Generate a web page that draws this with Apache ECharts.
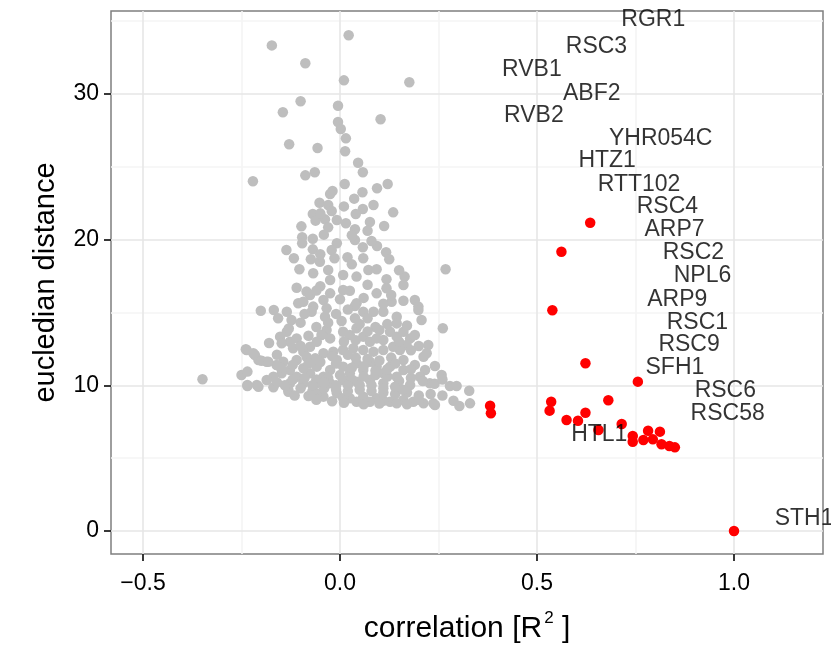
<!DOCTYPE html>
<html>
<head>
<meta charset="utf-8">
<script src="https://cdn.jsdelivr.net/npm/echarts@6/dist/echarts.min.js"></script>
<style>
html,body{margin:0;padding:0;background:#fff;}
#chart{width:831px;height:651px;}
</style>
</head>
<body>
<div id="chart"></div>
<script>
// ---- data ----
var xTicks = [-0.5, 0.0, 0.5, 1.0];
var yTicks = [0, 10, 20, 30];
var xMinorGrid = [-0.25, 0.25, 0.75];
var yMinorGrid = [5, 15, 25, 35];

var grayPoints = [
[0.022,34.02],[-0.173,33.33],[-0.088,32.1],[0.010,30.93],[0.176,30.8],[-0.100,29.49],[-0.005,29.19],
[-0.145,28.74],[0.103,28.26],[-0.005,28.07],[0.002,27.59],[0.015,26.95],[-0.129,26.54],[-0.057,26.29],
[0.013,26.06],[0.046,25.28],[0.058,24.62],[-0.088,24.41],[-0.064,24.62],[-0.221,24.0],[0.012,23.82],
[-0.019,23.34],[-0.025,23.13],[0.094,23.52],[0.121,23.82],[0.057,23.25],[0.036,22.81],[-0.052,22.53],
[-0.030,22.37],[0.010,22.28],[0.085,22.37],[-0.069,21.76],[-0.021,21.96],[0.058,22.1],[0.040,21.76],
[0.135,21.87],[-0.062,21.3],[-0.038,21.39],[-0.008,21.35],[0.015,21.12],[0.076,21.21],[0.112,20.93],
[-0.098,20.91],[-0.030,20.84],[0.038,20.71],[0.070,20.61],[-0.041,20.34],[-0.069,20.06],[-0.096,20.16],
[-0.096,19.75],[-0.008,19.75],[0.038,19.97],[0.094,19.56],[0.058,19.47],[-0.136,19.29],[-0.069,19.33],
[-0.021,19.29],[0.117,19.13],[-0.117,18.72],[-0.074,18.65],[-0.014,18.72],[0.019,18.79],[0.059,18.72],
[0.125,18.65],[-0.103,17.96],[-0.051,18.48],[0.268,17.96],[-0.068,17.69],[-0.030,17.91],[0.008,17.57],
[0.072,17.91],[0.093,17.96],[0.118,17.28],[0.164,17.46],[0.161,16.88],[0.042,17.46],[-0.025,17.23],
[-0.085,16.43],[-0.076,16.2],[-0.106,15.63],[-0.093,15.74],[-0.068,15.4],[-0.072,15.05],[-0.042,15.85],
[-0.034,15.28],[-0.038,14.71],[-0.025,16.31],[0.008,16.54],[0.025,16.49],[0.042,15.63],[0.059,15.05],
[0.085,15.05],[0.110,15.05],[0.093,16.31],[0.118,16.66],[0.131,15.74],[0.161,15.8],[0.190,15.85],
[0.199,15.4],[0.207,14.48],[-0.201,15.12],[-0.168,15.17],[-0.135,15.05],[-0.157,14.6],[-0.123,14.48],
[0.004,14.41],[0.038,15.44],[0.038,14.6],[0.144,14.71],[0.144,14.25],
[0.261,13.91],[-0.034,13.8],[-0.047,13.45],[-0.059,12.99],[-0.025,13.22],[-0.076,12.65],[-0.093,12.31],
[-0.119,12.54],[-0.127,12.99],[-0.152,13.34],[-0.148,12.88],[-0.110,13.22],[-0.135,13.68],[0.008,13.68],
[0.025,13.45],[0.042,13.91],[0.059,13.34],[0.076,12.99],[0.093,13.22],[0.110,13.11],[0.127,13.68],
[0.144,13.34],[0.161,13.68],[0.178,13.22],[0.190,13.45],[0.224,12.77],[0.212,11.96],[0.220,12.2],
[0.169,12.77],[0.152,12.42],[0.135,12.65],[0.110,12.42],[0.085,12.31],[0.059,12.42],[0.034,12.54],
[0.008,12.42],[-0.017,12.31],[-0.042,12.2],[-0.063,11.85],[-0.085,11.96],[-0.110,11.74],[-0.144,11.62],
[-0.161,11.39],[-0.186,11.62],[-0.207,11.74],[-0.220,12.2],[-0.239,12.47],
[0.258,10.71],[0.241,11.32],[0.216,11.05],[0.228,10.14],[0.161,11.74],[0.161,11.05],[0.144,10.59],
[0.127,11.28],[0.110,10.82],[0.093,11.28],[0.076,11.62],[0.059,11.05],[0.042,11.51],[0.025,10.82],
[0.008,11.28],[-0.008,11.74],[-0.025,11.05],[-0.042,10.59],[-0.059,11.28],[-0.076,10.82],[-0.093,11.17],
[-0.110,10.59],[-0.127,11.05],[-0.148,10.82],[-0.169,10.59],[-0.186,10.36],[-0.211,10.02],[-0.235,10.02],
[-0.250,10.71],[-0.235,10.94],[-0.349,10.41],[-0.127,10.14],[-0.093,10.14],[-0.059,10.14],[-0.025,10.14],
[0.008,10.36],[0.042,10.25],[0.076,10.36],[0.110,10.14],[0.178,10.02],[0.203,10.59],[0.279,9.95],
[0.296,9.95],[0.328,9.63],
[-0.080,9.27],[-0.042,9.22],[-0.008,9.45],[0.025,9.11],[0.059,9.22],[0.093,9.11],[0.127,8.87],
[0.161,8.99],[0.186,8.87],[0.212,8.76],[0.241,8.65],[0.288,8.94],[0.303,8.58],[0.330,8.76],
[-0.131,9.56],[-0.059,9.45],[0.008,9.11],[0.042,8.87],[0.076,8.87],[0.144,8.76],[0.110,8.94],
[-0.237,12.42],[-0.216,12.08],[-0.199,11.69],[-0.182,11.62],[-0.235,9.95],[-0.207,9.9],[-0.169,9.86],
[-0.131,9.68],[0.237,8.76],[0.199,15.17],
[-0.10,9.8],[-0.07,9.6],[-0.04,9.8],[-0.01,9.7],[0.02,9.6],[0.05,9.7],[0.08,9.6],[0.11,9.5],[0.14,9.4],
[0.17,9.5],[0.20,9.3],[-0.03,10.5],[0.00,10.7],[0.03,10.4],[0.06,10.6],[0.09,10.7],[0.12,10.6],
[0.15,10.3],[0.18,10.5],[-0.06,10.4],[-0.09,10.5],[-0.12,10.4],[0.04,11.9],[0.07,11.8],[0.10,11.7],
[0.13,11.9],[-0.02,12.0],[0.02,12.1],[0.19,11.4],[0.20,12.7],[-0.16,12.1],[-0.18,12.9],[0.05,14.2],
[0.09,14.0],[-0.01,14.9],[0.11,15.6],[-0.05,16.8],[0.06,16.0],[0.14,9.9],[0.23,9.4],[0.26,9.3],
[-0.115,9.3],[-0.06,9.0],[-0.02,8.9],[0.01,8.8],[0.06,8.7],[0.10,8.75],[0.17,8.7],[0.20,9.0],
[-0.16,10.2],[-0.14,10.0],[-0.15,11.2],[-0.12,11.4],[-0.08,11.5],[-0.05,11.6],[-0.01,11.5],[0.03,11.2],
[0.06,11.3],[0.09,11.0],[0.12,11.1],[0.14,11.5],[0.18,11.1],[0.21,10.3],[0.24,10.1],[0.26,10.4],
[-0.07,10.0],[-0.04,10.2],[-0.01,10.0],[0.02,10.0],[0.05,10.0],[0.08,10.0],[0.11,9.8],[0.16,9.7],
[-0.10,12.7],[-0.08,13.4],[-0.06,14.0],[-0.03,14.3],[0.01,13.0],[0.04,13.1],[0.07,13.7],[0.10,13.8],
[0.12,14.2],[0.17,14.1],[0.18,12.4],[0.15,13.0],[-0.13,13.9],[-0.10,14.3],[-0.09,14.9],[0.07,14.6],
[0.02,15.2],[0.00,15.9],[-0.06,16.5],[0.07,16.9],[0.13,16.2],[0.15,17.9],[-0.11,16.7],[0.03,18.3],
[-0.05,19.0],[0.08,19.9],[0.03,20.3],[-0.05,21.8]
];

var redPoints = [
[0.635,21.16],[0.562,19.17],[0.539,15.15],[0.623,11.51],[0.756,10.25],[0.381,8.6],[0.383,8.08],
[0.536,8.87],[0.532,8.26],[0.681,8.97],[0.623,8.12],[0.575,7.62],[0.604,7.57],[0.715,7.34],
[0.656,6.93],[0.782,6.88],[0.812,6.82],[0.743,6.52],[0.743,6.13],[0.770,6.25],[0.794,6.29],
[0.816,5.95],[0.836,5.83],[0.850,5.74],[1.0,0.0]
];

var geneNames = ['RGR1','RSC3','RVB1','ABF2','RVB2','YHR054C','HTZ1','RTT102','RSC4','ARP7',
                 'RSC2','NPL6','ARP9','RSC1','RSC9','SFH1','RSC6','RSC58','HTL1','STH1'];
var geneX = [0.795,0.651,0.487,0.639,0.492,0.814,0.678,0.759,0.831,0.849,
             0.897,0.920,0.856,0.907,0.886,0.850,0.978,0.984,0.658,1.178];
var geneY = [35.07,33.24,31.64,30.04,28.5,26.9,25.4,23.8,22.26,20.66,
             19.1,17.5,15.9,14.32,12.77,11.2,9.63,8.08,6.59,0.82];

// ---- chart ----
var labelData = geneNames.map(function (n, i) { return { value: [geneX[i], geneY[i]], name: n }; });

var gridMarks = [];
xMinorGrid.forEach(function (v) { gridMarks.push({ xAxis: v, lineStyle: { color: '#f4f4f4', width: 1.6, type: 'solid' } }); });
yMinorGrid.forEach(function (v) { gridMarks.push({ yAxis: v, lineStyle: { color: '#f4f4f4', width: 1.6, type: 'solid' } }); });
xTicks.forEach(function (v) { gridMarks.push({ xAxis: v, lineStyle: { color: '#e6e6e6', width: 1.6, type: 'solid' } }); });
yTicks.forEach(function (v) { gridMarks.push({ yAxis: v, lineStyle: { color: '#e6e6e6', width: 1.6, type: 'solid' } }); });

var font = 'Liberation Sans, Arial, Helvetica, sans-serif';
var chart = echarts.init(document.getElementById('chart'), null, { renderer: 'canvas' });
chart.setOption({
  animation: false,
  backgroundColor: '#ffffff',
  grid: { left: 111, top: 11, right: 8, bottom: 97, show: true, borderColor: '#7f7f7f', borderWidth: 1.5, backgroundColor: '#ffffff' },
  xAxis: {
    type: 'value', min: -0.5812, max: 1.2259,
    axisLine: { show: false, onZero: false },
    splitLine: { show: false },
    axisTick: { show: true, inside: false, length: 7, customValues: xTicks, lineStyle: { color: '#222', width: 1.8 } },
    axisLabel: { customValues: xTicks, margin: 18, fontFamily: font, fontSize: 23, color: '#000',
      formatter: function (v) { return (v < 0 ? '\u2212' : '') + Math.abs(v).toFixed(1); } },
    name: '{a|correlation [R}{s|2}{a| ]}', nameLocation: 'middle', nameGap: 56,
    nameTextStyle: { rich: { a: { fontFamily: font, fontSize: 30, color: '#000' },
                            s: { fontFamily: font, fontSize: 17, color: '#000', padding: [0, 0, 20, 2] } } }
  },
  yAxis: {
    type: 'value', min: -1.579, max: 35.69,
    axisLine: { show: false, onZero: false },
    splitLine: { show: false },
    axisTick: { show: true, inside: false, length: 7, customValues: yTicks, lineStyle: { color: '#222', width: 1.8 } },
    axisLabel: { customValues: yTicks, margin: 12, fontFamily: font, fontSize: 23, color: '#000' },
    name: 'eucledian distance', nameLocation: 'middle', nameGap: 51, nameRotate: 90,
    nameTextStyle: { fontFamily: font, fontSize: 29, color: '#000' }
  },
  series: [
    { type: 'scatter', data: [], silent: true,
      markLine: { silent: true, symbol: 'none', label: { show: false }, z: 1, data: gridMarks } },
    { type: 'scatter', data: grayPoints, symbolSize: 10.5, itemStyle: { color: '#bebebe', opacity: 1 }, z: 3 },
    { type: 'scatter', data: redPoints, symbolSize: 10.5, itemStyle: { color: '#ff0000', opacity: 1 }, z: 4 },
    { type: 'scatter', data: labelData, symbolSize: 1, itemStyle: { color: 'rgba(0,0,0,0)' }, z: 5,
      label: { show: true, position: 'inside', formatter: '{b}', fontFamily: font, fontSize: 23, color: '#000' } }
  ]
});
</script>
</body>
</html>
